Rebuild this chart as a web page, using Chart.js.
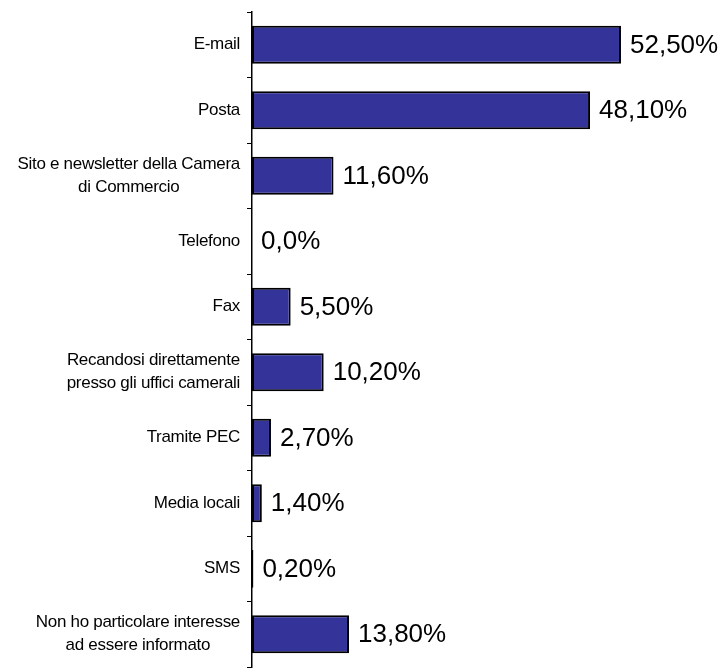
<!DOCTYPE html>
<html>
<head>
<meta charset="utf-8">
<script src="https://cdn.jsdelivr.net/npm/chart.js@4/dist/chart.umd.min.js"></script>
<style>
  html, body { margin: 0; padding: 0; background: #fff; }
  #chart { display: block; }
</style>
</head>
<body>
<canvas id="chart" width="725" height="668"></canvas>
<script>
  const categories = [
    ["E-mail"],
    ["Posta"],
    ["Sito e newsletter della Camera", "di Commercio"],
    ["Telefono"],
    ["Fax"],
    ["Recandosi direttamente", "presso gli uffici camerali"],
    ["Tramite PEC"],
    ["Media locali"],
    ["SMS"],
    ["Non ho particolare interesse", "ad essere informato"],
  ];
  const values = [52.5, 48.1, 11.6, 0, 5.5, 10.2, 2.7, 1.4, 0.2, 13.8];
  const valueLabels = ["52,50%", "48,10%", "11,60%", "0,0%", "5,50%", "10,20%", "2,70%", "1,40%", "0,20%", "13,80%"];

  const FONT = '"Liberation Sans", Arial, sans-serif';

  // category names: block right-aligned against the axis, lines centred within the block
  const categoryLabels = {
    id: "categoryLabels",
    afterDraw(chart) {
      const ctx = chart.ctx;
      const y = chart.scales.y;
      const right = y.right - 12;
      const lineH = 23;
      ctx.save();
      ctx.font = `17px ${FONT}`;
      ctx.letterSpacing = "-0.3px";
      ctx.fillStyle = "#000";
      ctx.textAlign = "center";
      ctx.textBaseline = "middle";
      categories.forEach((lines, i) => {
        const cy = y.getPixelForValue(i);
        const w = Math.max(...lines.map((t) => ctx.measureText(t).width));
        const cx = right - w / 2;
        const top = cy - ((lines.length - 1) * lineH) / 2;
        lines.forEach((t, k) => ctx.fillText(t, cx, top + k * lineH));
      });
      ctx.restore();
    },
  };

  // percentage text just past the end of each bar
  const valueText = {
    id: "valueText",
    afterDatasetsDraw(chart) {
      const ctx = chart.ctx;
      const meta = chart.getDatasetMeta(0);
      ctx.save();
      ctx.font = `26px ${FONT}`;
      ctx.fillStyle = "#000";
      ctx.textAlign = "left";
      ctx.textBaseline = "middle";
      meta.data.forEach((bar, i) => {
        ctx.fillText(valueLabels[i], bar.x + 9, bar.y + 1);
      });
      ctx.restore();
    },
  };

  new Chart(document.getElementById("chart"), {
    type: "bar",
    data: {
      labels: categories.map((c) => c.join(" ")),
      datasets: [
        {
          data: values,
          backgroundColor: "#333399",
          borderColor: "#000",
          borderWidth: 2,
          borderSkipped: false,
          barPercentage: 0.58,
          categoryPercentage: 1,
        },
      ],
    },
    options: {
      indexAxis: "y",
      responsive: false,
      animation: false,
      devicePixelRatio: 1,
      layout: { padding: { top: 12, bottom: 1, left: 0, right: 0 } },
      plugins: { legend: { display: false }, tooltip: { enabled: false } },
      scales: {
        x: { display: false, min: 0, max: 67.3 },
        y: {
          offset: true,
          ticks: { display: false },
          grid: {
            offset: true,
            drawOnChartArea: false,
            drawTicks: true,
            tickLength: 5,
            color: "#000",
          },
          border: { color: "#000", width: 1.5 },
          afterFit: (scale) => {
            scale.width = 252;
          },
        },
      },
    },
    plugins: [categoryLabels, valueText],
  });
</script>
</body>
</html>
